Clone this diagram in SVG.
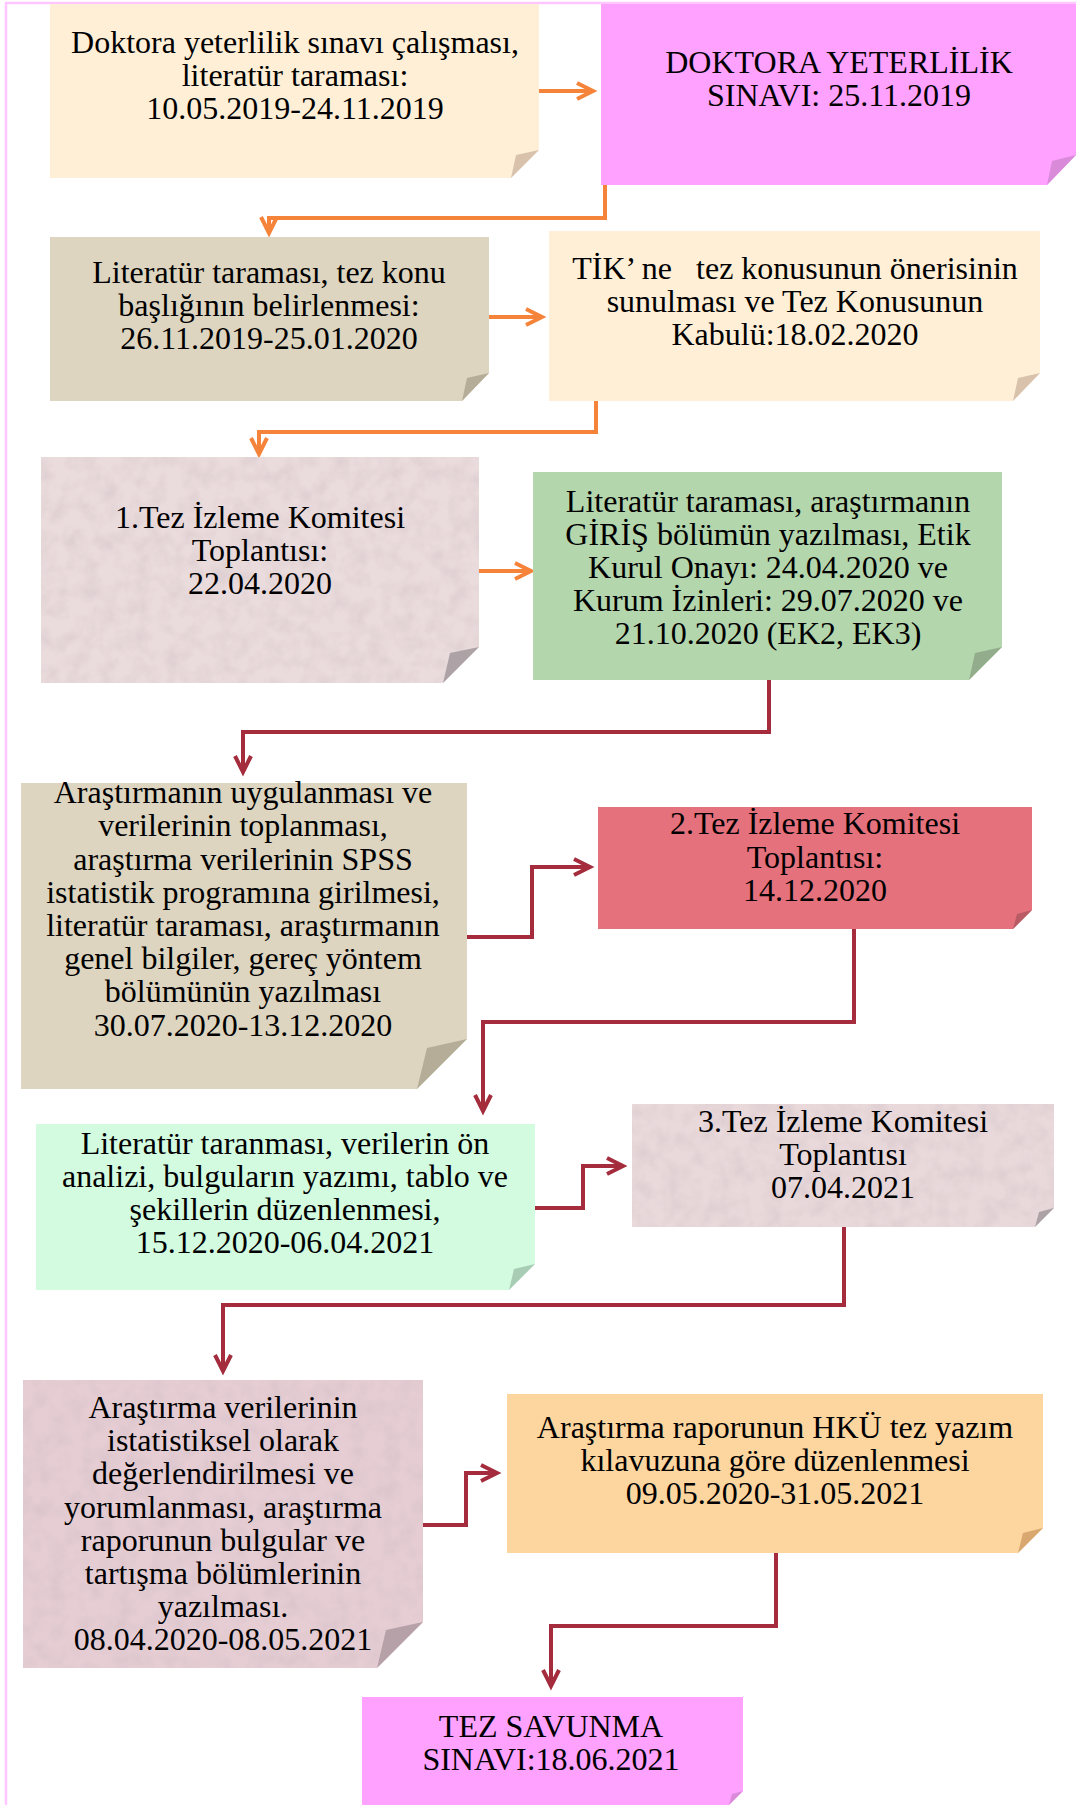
<svg xmlns="http://www.w3.org/2000/svg" width="1076" height="1805" viewBox="0 0 1076 1805">
<style>
  text { font-family: "Liberation Serif", "Times New Roman", serif; font-size: 32px; fill: #000; text-anchor: middle; white-space: pre; }
  .or { fill: none; stroke: #F5843A; stroke-width: 4; }
  .dr { fill: none; stroke: #A42C3C; stroke-width: 4; }
  .frame { fill: none; stroke: #FFC6FF; stroke-width: 2.5; }
</style>
<defs>
  <marker id="ao" markerUnits="userSpaceOnUse" markerWidth="24" markerHeight="24" refX="19" refY="12" orient="auto">
    <path d="M3,4 L19,12 L3,20" fill="none" stroke="#F5843A" stroke-width="4"/>
  </marker>
  <marker id="ar" markerUnits="userSpaceOnUse" markerWidth="24" markerHeight="24" refX="19" refY="12" orient="auto">
    <path d="M3,4 L19,12 L3,20" fill="none" stroke="#A42C3C" stroke-width="4"/>
  </marker>
  <filter id="paper" x="0" y="0" width="100%" height="100%">
    <feTurbulence type="fractalNoise" baseFrequency="0.06" numOctaves="3" seed="4" result="n"/>
    <feColorMatrix in="n" type="matrix" values="0 0 0 0 0.6  0 0 0 0 0.5  0 0 0 0 0.53  0 0 0 -0.8 0.5" result="tint"/>
    <feComposite in="tint" in2="SourceGraphic" operator="in" result="tex"/>
    <feMerge><feMergeNode in="SourceGraphic"/><feMergeNode in="tex"/></feMerge>
  </filter>
</defs>
<rect width="1076" height="1805" fill="#FFFFFF"/>
<path class="frame" d="M6,1805 V3 H1076"/>

<g id="connectors">
  <path class="or" d="M539,91 H593" marker-end="url(#ao)"/>
  <path class="or" d="M605,185 V218 H269 V233" marker-end="url(#ao)"/>
  <path class="or" d="M489,317 H542" marker-end="url(#ao)"/>
  <path class="or" d="M596,401 V432 H259 V454" marker-end="url(#ao)"/>
  <path class="or" d="M479,571 H531" marker-end="url(#ao)"/>
  <path class="dr" d="M769,680 V732 H243 V772" marker-end="url(#ar)"/>
  <path class="dr" d="M467,937 H532 V867 H590" marker-end="url(#ar)"/>
  <path class="dr" d="M854,929 V1022 H483 V1111" marker-end="url(#ar)"/>
  <path class="dr" d="M535,1208 H583 V1166 H623" marker-end="url(#ar)"/>
  <path class="dr" d="M844,1227 V1305 H223 V1371" marker-end="url(#ar)"/>
  <path class="dr" d="M423,1525 H466 V1473 H497" marker-end="url(#ar)"/>
  <path class="dr" d="M776,1553 V1626 H551 V1686" marker-end="url(#ar)"/>
</g>

<g id="n1">
  <path d="M50,4 H539 V150 L511,178 H50 Z" fill="#FFEFD7"/>
  <path d="M539,150 L516,155 L511,178 Z" fill="#D8C2AC"/>
  <text x="295" y="53">Doktora yeterlilik sınavı çalışması,</text>
  <text x="295" y="86">literatür taraması:</text>
  <text x="295" y="119">10.05.2019-24.11.2019</text>
</g>

<g id="n2">
  <path d="M601,4 H1076 V155 L1047,185 H601 Z" fill="#FFA1FF"/>
  <path d="M1076,155 L1052,161 L1047,185 Z" fill="#D98BD9"/>
  <text x="839" y="73">DOKTORA YETERLİLİK</text>
  <text x="839" y="106">SINAVI: 25.11.2019</text>
</g>

<g id="n3">
  <path d="M50,237 H489 V373 L462,401 H50 Z" fill="#DDD5BF"/>
  <path d="M489,373 L467,378 L462,401 Z" fill="#B6AD99"/>
  <text x="269" y="283">Literatür taraması, tez konu</text>
  <text x="269" y="316">başlığının belirlenmesi:</text>
  <text x="269" y="349">26.11.2019-25.01.2020</text>
</g>

<g id="n4">
  <path d="M549,231 H1040 V373 L1013,401 H549 Z" fill="#FFEFD7"/>
  <path d="M1040,373 L1018,378 L1013,401 Z" fill="#D8C2AC"/>
  <text x="795" y="279">TİK’ ne   tez konusunun önerisinin</text>
  <text x="795" y="312">sunulması ve Tez Konusunun</text>
  <text x="795" y="345">Kabulü:18.02.2020</text>
</g>

<g id="n5">
  <path d="M41,457 H479 V647 L443,683 H41 Z" fill="#EADBDD" filter="url(#paper)"/>
  <path d="M479,647 L450,653 L443,683 Z" fill="#ADA3A6"/>
  <text x="260" y="528">1.Tez İzleme Komitesi</text>
  <text x="260" y="561">Toplantısı:</text>
  <text x="260" y="594">22.04.2020</text>
</g>

<g id="n6">
  <path d="M533,472 H1002 V647 L969,680 H533 Z" fill="#B4D6AD"/>
  <path d="M1002,647 L975,653 L969,680 Z" fill="#93AD8C"/>
  <text x="768" y="512">Literatür taraması, araştırmanın</text>
  <text x="768" y="545">GİRİŞ bölümün yazılması, Etik</text>
  <text x="768" y="578">Kurul Onayı: 24.04.2020 ve</text>
  <text x="768" y="611">Kurum İzinleri: 29.07.2020 ve</text>
  <text x="768" y="644">21.10.2020 (EK2, EK3)</text>
</g>

<g id="n7">
  <path d="M21,783 H467 V1039 L417,1089 H21 Z" fill="#DDD5BF"/>
  <path d="M467,1039 L427,1048 L417,1089 Z" fill="#B6AD99"/>
  <text x="243" y="803">Araştırmanın uygulanması ve</text>
  <text x="243" y="836">verilerinin toplanması,</text>
  <text x="243" y="870">araştırma verilerinin SPSS</text>
  <text x="243" y="903">istatistik programına girilmesi,</text>
  <text x="243" y="936">literatür taraması, araştırmanın</text>
  <text x="243" y="969">genel bilgiler, gereç yöntem</text>
  <text x="243" y="1002">bölümünün yazılması</text>
  <text x="243" y="1036">30.07.2020-13.12.2020</text>
</g>

<g id="n8">
  <path d="M598,807 H1032 V910 L1013,929 H598 Z" fill="#E4717C"/>
  <path d="M1032,910 L1017,914 L1013,929 Z" fill="#B95B64"/>
  <text x="815" y="834">2.Tez İzleme Komitesi</text>
  <text x="815" y="868">Toplantısı:</text>
  <text x="815" y="901">14.12.2020</text>
</g>

<g id="n9">
  <path d="M36,1124 H535 V1264 L509,1290 H36 Z" fill="#D3FBE0"/>
  <path d="M535,1264 L514,1269 L509,1290 Z" fill="#A9CDB4"/>
  <text x="285" y="1154">Literatür taranması, verilerin ön</text>
  <text x="285" y="1187">analizi, bulguların yazımı, tablo ve</text>
  <text x="285" y="1220">şekillerin düzenlenmesi,</text>
  <text x="285" y="1253">15.12.2020-06.04.2021</text>
</g>

<g id="n10">
  <path d="M632,1104 H1054 V1208 L1035,1227 H632 Z" fill="#E9D9DB" filter="url(#paper)"/>
  <path d="M1054,1208 L1039,1212 L1035,1227 Z" fill="#ADA3A6"/>
  <text x="843" y="1132">3.Tez İzleme Komitesi</text>
  <text x="843" y="1165">Toplantısı</text>
  <text x="843" y="1198">07.04.2021</text>
</g>

<g id="n11">
  <path d="M23,1380 H423 V1622 L377,1668 H23 Z" fill="#E6CDD4" filter="url(#paper)"/>
  <path d="M423,1622 L386,1630 L377,1668 Z" fill="#B5A1A7"/>
  <text x="223" y="1418">Araştırma verilerinin</text>
  <text x="223" y="1451">istatistiksel olarak</text>
  <text x="223" y="1484">değerlendirilmesi ve</text>
  <text x="223" y="1518">yorumlanması, araştırma</text>
  <text x="223" y="1551">raporunun bulgular ve</text>
  <text x="223" y="1584">tartışma bölümlerinin</text>
  <text x="223" y="1617">yazılması.</text>
  <text x="223" y="1650">08.04.2020-08.05.2021</text>
</g>

<g id="n12">
  <path d="M507,1394 H1043 V1528 L1018,1553 H507 Z" fill="#FDD59F"/>
  <path d="M1043,1528 L1023,1533 L1018,1553 Z" fill="#D9A770"/>
  <text x="775" y="1438">Araştırma raporunun HKÜ tez yazım</text>
  <text x="775" y="1471">kılavuzuna göre düzenlenmesi</text>
  <text x="775" y="1504">09.05.2020-31.05.2021</text>
</g>

<g id="n13">
  <path d="M362,1697 H743 V1791 L729,1805 H362 Z" fill="#FFA1FF"/>
  <path d="M743,1791 L732,1794 L729,1805 Z" fill="#D98BD9"/>
  <text x="551" y="1737">TEZ SAVUNMA</text>
  <text x="551" y="1770">SINAVI:18.06.2021</text>
</g>
</svg>
